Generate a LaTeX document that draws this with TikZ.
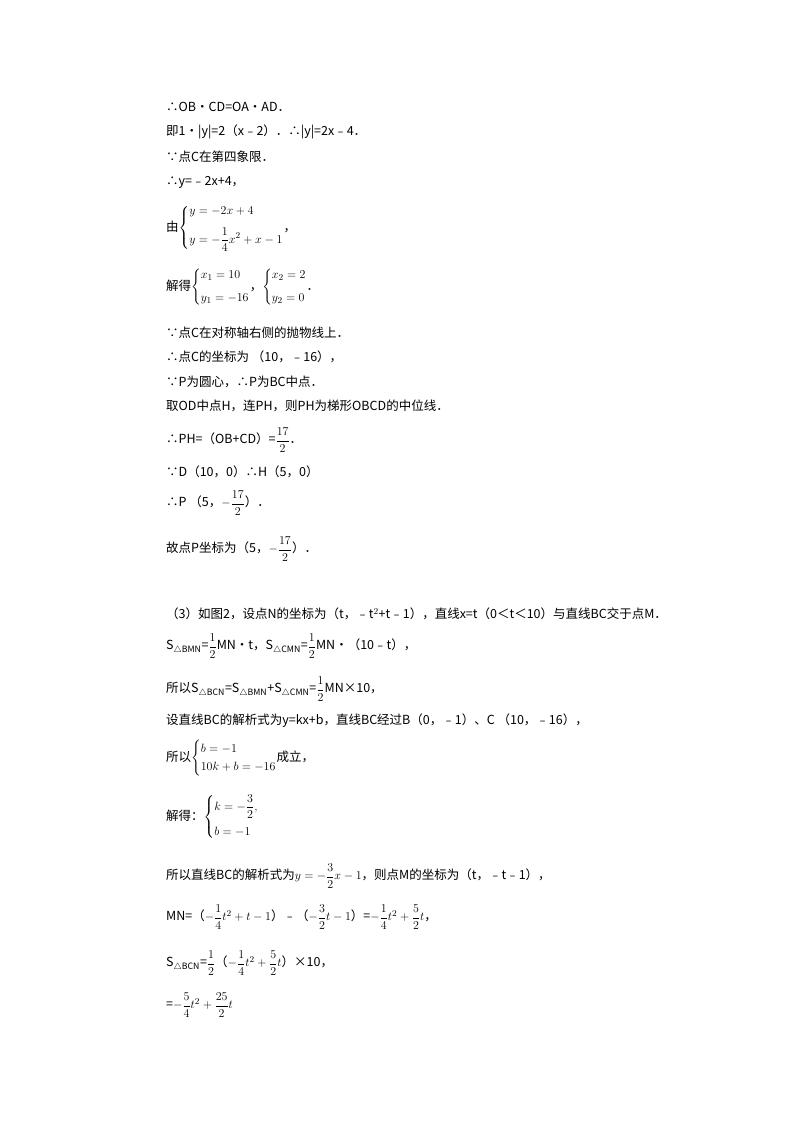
\documentclass[tikz,border=0pt]{standalone}
\usepackage{amsmath}
\usepackage{fontspec}
\setmainfont{Noto Sans CJK SC}
\newcommand{\sysb}[1]{\left\{\begin{array}{@{}l@{}}#1\end{array}\right.}
\tikzset{ln/.style={anchor=west,inner sep=0pt,font=\fontsize{12.5pt}{15pt}\selectfont}}
\begin{document}
\begin{tikzpicture}[x=1pt,y=-1pt]
\useasboundingbox[fill=white] (0,0) rectangle (800,1132);
\def\L{166}
\node[ln] (l1) at (\L,107) {∴OB•CD=OA•AD．};
\node[ln] (l2) at (\L,132) {即1•|y|=2（x﹣2）．∴|y|=2x﹣4．};
\node[ln] (l3) at (\L,157) {∵点C在第四象限．};
\node[ln] (l4) at (\L,182) {∴y=﹣2x+4，};
\node[ln] (l5) at (\L,228) {由$\sysb{ y=-2x+4\\[8pt] y=-\dfrac{1}{4}x^2+x-1}$，};
\node[ln] (l6) at (\L,287) {解得$\sysb{ x_1=10\\[8pt] y_1=-16}$，$\sysb{ x_2=2\\[8pt] y_2=0}$．};
\node[ln] (l7) at (\L,333) {∵点C在对称轴右侧的抛物线上．};
\node[ln] (l8) at (\L,357) {∴点C的坐标为 （10，﹣16），};
\node[ln] (l9) at (\L,382) {∵P为圆心，∴P为BC中点．};
\node[ln] (l10) at (\L,406) {取OD中点H，连PH，则PH为梯形OBCD的中位线．};
\node[ln] (l11) at (\L,440) {∴PH=（OB+CD）=$\dfrac{17}{2}$．};
\node[ln] (l12) at (\L,472) {∵D（10，0）∴H（5，0）};
\node[ln] (l13) at (\L,503) {∴P （5，$-\dfrac{17}{2}$）．};
\node[ln] (l14) at (\L,549) {故点P坐标为（5，$-\dfrac{17}{2}$）．};
\node[ln] (l15) at (\L,614) {（3）如图2，设点N的坐标为（t，﹣t$^2$+t﹣1），直线x=t（0＜t＜10）与直线BC交于点M．};
\node[ln] (l16) at (\L,646) {S$_{\triangle\mathrm{BMN}}$=$\dfrac{1}{2}$MN•t，S$_{\triangle\mathrm{CMN}}$=$\dfrac{1}{2}$MN•（10﹣t），};
\node[ln] (l17) at (\L,689) {所以S$_{\triangle\mathrm{BCN}}$=S$_{\triangle\mathrm{BMN}}$+S$_{\triangle\mathrm{CMN}}$=$\dfrac{1}{2}$MN×10，};
\node[ln] (l18) at (\L,721) {设直线BC的解析式为y=kx+b，直线BC经过B（0，﹣1）、C （10，﹣16），};
\node[ln] (l19) at (\L,758) {所以$\sysb{ b=-1\\[3pt] 10k+b=-16}$成立，};
\node[ln] (l20) at (\L,817) {解得：$\sysb{ k=-\dfrac{3}{2},\\[10pt] b=-1}$};
\node[ln] (l21) at (\L,876) {所以直线BC的解析式为$y=-\dfrac{3}{2}x-1$，则点M的坐标为（t，﹣t﹣1），};
\node[ln] (l22) at (\L,917) {MN=（$-\dfrac{1}{4}t^2+t-1$）﹣（$-\dfrac{3}{2}t-1$）=$-\dfrac{1}{4}t^2+\dfrac{5}{2}t$，};
\node[ln] (l23) at (\L,963) {S$_{\triangle\mathrm{BCN}}$=$\dfrac{1}{2}$（$-\dfrac{1}{4}t^2+\dfrac{5}{2}t$）×10，};
\node[ln] (l24) at (\L,1005) {=$-\dfrac{5}{4}t^2+\dfrac{25}{2}t$};
\end{tikzpicture}
\end{document}
